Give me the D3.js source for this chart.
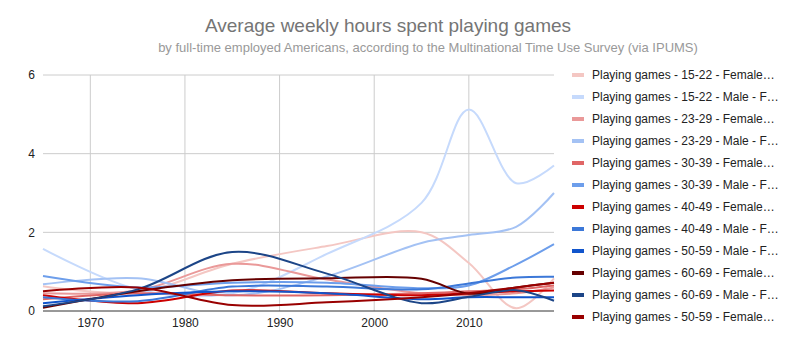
<!DOCTYPE html>
<html lang="en">
<head>
    <meta charset="UTF-8">
    <title>Average weekly hours spent playing games</title>
    <script type="text/javascript" src="https://cdn.jsdelivr.net/npm/d3@7"></script>
    <style>
        body { margin: 0; background: #fff; }
    </style>
</head>
<body>
<script type="text/javascript">
    const years = [1965, 1975, 1985, 1995, 2005, 2010, 2015, 2019];

    const seriesNames = [
        "Playing games - 15-22 - Female - Full-time employed",
        "Playing games - 15-22 - Male - Full-time employed",
        "Playing games - 23-29 - Female - Full-time employed",
        "Playing games - 23-29 - Male - Full-time employed",
        "Playing games - 30-39 - Female - Full-time employed",
        "Playing games - 30-39 - Male - Full-time employed",
        "Playing games - 40-49 - Female - Full-time employed",
        "Playing games - 40-49 - Male - Full-time employed",
        "Playing games - 50-59 - Male - Full-time employed",
        "Playing games - 60-69 - Female - Full-time employed",
        "Playing games - 60-69 - Male - Full-time employed",
        "Playing games - 50-59 - Female - Full-time employed"
    ];

    // hours per week, one row per series, same order as years
    const f1522 = [0.63, 0.48, 1.2, 1.65, 2.0, 1.22, 0.07, 0.83];
    const m1522 = [1.58, 0.55, 0.45, 1.45, 2.75, 5.12, 3.25, 3.7];
    const f2329 = [0.45, 0.52, 1.2, 0.8, 0.45, 0.4, 0.45, 0.6];
    const m2329 = [0.68, 0.83, 0.4, 0.88, 1.73, 1.93, 2.14, 3.0];
    const f3039 = [0.3, 0.45, 0.4, 0.4, 0.45, 0.5, 0.55, 0.65];
    const m3039 = [0.89, 0.6, 0.72, 0.72, 0.58, 0.65, 1.18, 1.7];
    const f4049 = [0.4, 0.2, 0.52, 0.45, 0.4, 0.45, 0.5, 0.52];
    const m4049 = [0.35, 0.25, 0.62, 0.62, 0.55, 0.7, 0.85, 0.87];
    const m5059 = [0.2, 0.4, 0.5, 0.45, 0.3, 0.35, 0.35, 0.35];
    const f6069 = [0.08, 0.5, 0.78, 0.83, 0.82, 0.44, 0.6, 0.72];
    const m6069 = [0.12, 0.55, 1.5, 0.95, 0.2, 0.36, 0.53, 0.26];
    const f5059 = [0.5, 0.6, 0.15, 0.22, 0.35, 0.45, 0.6, 0.72];

    const seriesValues = [f1522, m1522, f2329, m2329, f3039, m3039,
        f4049, m4049, m5059, f6069, m6069, f5059];

    const seriesColors = ["#f4c7c3", "#c6dafc", "#ea9999", "#a4c2f4", "#e06666", "#6d9eeb",
        "#cc0000", "#3c78d8", "#1155cc", "#660000", "#1c4587", "#990000"];

    const xTicks = [1970, 1980, 1990, 2000, 2010];
    const yTicks = [0, 2, 4, 6];

    const width = 801, height = 347;
    const plot = {left: 43, right: 554, top: 75, bottom: 311};

    const x = d3.scaleLinear().domain([1965, 2019]).range([plot.left, plot.right]);
    const y = d3.scaleLinear().domain([0, 6]).range([plot.bottom, plot.top]);

    const svg = d3.select("body").append("svg")
        .attr("width", width)
        .attr("height", height)
        .style("font-family", "Arial, 'Liberation Sans', sans-serif");

    // titles
    svg.append("text")
        .attr("x", 388).attr("y", 32)
        .attr("text-anchor", "middle")
        .attr("fill", "#757575")
        .style("font-size", "19px")
        .text("Average weekly hours spent playing games");

    svg.append("text")
        .attr("x", 428).attr("y", 52)
        .attr("text-anchor", "middle")
        .attr("fill", "#999999")
        .style("font-size", "13px")
        .text("by full-time employed Americans, according to the Multinational Time Use Survey (via IPUMS)");

    // grid
    const grid = svg.append("g");
    grid.selectAll("line.h")
        .data(yTicks.filter(d => d > 0))
        .enter().append("line")
        .attr("x1", plot.left).attr("x2", plot.right)
        .attr("y1", d => y(d)).attr("y2", d => y(d))
        .attr("stroke", "#cccccc");
    grid.selectAll("line.v")
        .data(xTicks)
        .enter().append("line")
        .attr("x1", d => x(d)).attr("x2", d => x(d))
        .attr("y1", plot.top).attr("y2", plot.bottom)
        .attr("stroke", "#cccccc");

    // axes
    const yAxis = svg.append("g")
        .attr("transform", `translate(${plot.left - 8},0)`)
        .call(d3.axisLeft(y).tickValues(yTicks).tickFormat(d3.format("d")).tickSize(0).tickPadding(0));
    yAxis.select(".domain").remove();
    yAxis.selectAll("text")
        .attr("fill", "#222")
        .style("font-size", "12px")
        .style("font-family", "Arial, 'Liberation Sans', sans-serif");

    const xAxis = svg.append("g")
        .attr("transform", `translate(0,${plot.bottom})`)
        .call(d3.axisBottom(x).tickValues(xTicks).tickFormat(d3.format("d")).tickSize(0).tickPadding(7));
    xAxis.select(".domain").remove();
    xAxis.selectAll("text")
        .attr("fill", "#222")
        .style("font-size", "12px")
        .style("font-family", "Arial, 'Liberation Sans', sans-serif");

    // lines
    const line = d3.line()
        .x((d, i) => x(years[i]))
        .y(d => y(d))
        .curve(d3.curveCatmullRom.alpha(0.5));

    svg.append("g")
        .attr("fill", "none")
        .attr("stroke-width", 2)
        .selectAll("path")
        .data(seriesValues)
        .enter().append("path")
        .attr("stroke", (d, i) => seriesColors[i])
        .attr("d", line);

    // baseline
    svg.append("line")
        .attr("x1", plot.left).attr("x2", plot.right)
        .attr("y1", plot.bottom).attr("y2", plot.bottom)
        .attr("stroke", "#333333");

    // legend
    const legend = svg.append("g")
        .selectAll("g")
        .data(seriesNames)
        .enter().append("g")
        .attr("transform", (d, i) => `translate(572,${75 + i * 22})`);

    legend.append("rect")
        .attr("x", 0).attr("y", -2)
        .attr("width", 12).attr("height", 4)
        .attr("fill", (d, i) => seriesColors[i]);

    legend.append("text")
        .attr("x", 20).attr("dy", "0.35em")
        .attr("fill", "#222")
        .style("font-size", "12px")
        .text(d => d)
        .each(function (d) {
            const t = d3.select(this);
            const maxW = 188;
            let s = d;
            if (this.getComputedTextLength() > maxW) {
                while (s.length > 1) {
                    s = s.slice(0, -1);
                    t.text(s.trimEnd() + "…");
                    if (this.getComputedTextLength() <= maxW) break;
                }
            }
        });
</script>
</body>
</html>
